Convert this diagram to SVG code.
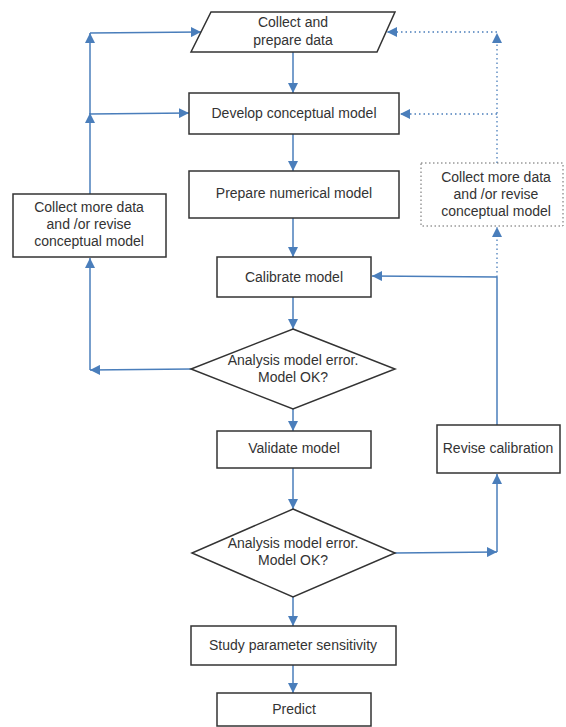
<svg xmlns="http://www.w3.org/2000/svg" width="566" height="727" viewBox="0 0 566 727">
<style>
.n{fill:#fff;stroke:#333;stroke-width:1.5}
.nd{fill:#fff;stroke:#666;stroke-width:1;stroke-dasharray:1.5 2.5}
.t{font-family:"Liberation Sans",Arial,sans-serif;font-size:14px;fill:#333;text-anchor:middle}
.c{fill:none;stroke:#4a7ebb;stroke-width:1.5;marker-end:url(#a)}
.cn{fill:none;stroke:#4a7ebb;stroke-width:1.5}
.d{fill:none;stroke:#4a7ebb;stroke-width:1.3;stroke-dasharray:1.5 3;marker-end:url(#a)}
.dn{fill:none;stroke:#4a7ebb;stroke-width:1.3;stroke-dasharray:1.5 3}
</style>
<defs>
<marker id="a" markerUnits="userSpaceOnUse" markerWidth="10" markerHeight="10" refX="10" refY="5" orient="auto" viewBox="0 0 10 10">
<path d="M0,0 L10,5 L0,10 z" fill="#4a7ebb"/>
</marker>
</defs>
<rect width="566" height="727" fill="#fff"/>
<g id="connectors">
<line class="c" x1="293" y1="52" x2="293" y2="93"/>
<line class="c" x1="293" y1="134" x2="293" y2="171"/>
<line class="c" x1="293" y1="218" x2="293" y2="257"/>
<line class="c" x1="293" y1="297" x2="293" y2="329"/>
<line class="c" x1="293" y1="409" x2="293" y2="431"/>
<line class="c" x1="293" y1="468" x2="293" y2="509"/>
<line class="c" x1="293" y1="597" x2="293" y2="626"/>
<line class="c" x1="293" y1="665" x2="293" y2="693"/>
<line class="c" x1="191" y1="369" x2="90" y2="370"/>
<line class="c" x1="90" y1="370" x2="90" y2="258"/>
<line class="c" x1="90" y1="194" x2="90" y2="113"/>
<line class="c" x1="90" y1="114" x2="189" y2="113"/>
<line class="c" x1="90" y1="114" x2="90" y2="33"/>
<line class="c" x1="90" y1="33" x2="201" y2="32"/>
<line class="c" x1="395" y1="553" x2="497" y2="552"/>
<line class="c" x1="497" y1="552" x2="497" y2="474"/>
<line class="cn" x1="497" y1="425" x2="497" y2="277"/>
<line class="c" x1="497" y1="277" x2="372" y2="276"/>
<line class="d" x1="497" y1="277" x2="497" y2="227"/>
<line class="d" x1="497" y1="163" x2="497" y2="33"/>
<line class="d" x1="497" y1="32" x2="387" y2="32"/>
<line class="d" x1="497" y1="114" x2="400" y2="114"/>
</g>
<g id="collect">
<polygon class="n" points="211,12 395,12 377,52 191,52"/>
<text class="t" x="293" y="27">Collect and</text>
<text class="t" x="293" y="45">prepare data</text>
</g>
<g id="develop">
<rect class="n" x="189" y="93" width="210" height="41"/>
<text class="t" x="294" y="118">Develop conceptual model</text>
</g>
<g id="prepare">
<rect class="n" x="189" y="171" width="210" height="47"/>
<text class="t" x="294" y="198">Prepare numerical model</text>
</g>
<g id="calibrate">
<rect class="n" x="217" y="257" width="154" height="40"/>
<text class="t" x="294" y="282">Calibrate model</text>
</g>
<g id="collect-more-left">
<rect class="n" x="13" y="194" width="153" height="63"/>
<text class="t" x="89" y="212">Collect more data</text>
<text class="t" x="89" y="229">and /or revise</text>
<text class="t" x="89" y="246">conceptual model</text>
</g>
<g id="collect-more-right">
<rect class="nd" x="421" y="163" width="142" height="63"/>
<text class="t" x="496" y="182">Collect more data</text>
<text class="t" x="496" y="199">and /or revise</text>
<text class="t" x="496" y="216">conceptual model</text>
</g>
<g id="analysis1">
<polygon class="n" points="293,329 395,369 293,409 191,369"/>
<text class="t" x="293" y="365">Analysis model error.</text>
<text class="t" x="293" y="382">Model OK?</text>
</g>
<g id="validate">
<rect class="n" x="217" y="431" width="154" height="37"/>
<text class="t" x="294" y="453">Validate model</text>
</g>
<g id="revise">
<rect class="n" x="437" y="425" width="123" height="48"/>
<text class="t" x="498" y="453">Revise calibration</text>
</g>
<g id="analysis2">
<polygon class="n" points="293,509 395,553 293,597 192,553"/>
<text class="t" x="293" y="548">Analysis model error.</text>
<text class="t" x="293" y="565">Model OK?</text>
</g>
<g id="sensitivity">
<rect class="n" x="191" y="626" width="205" height="39"/>
<text class="t" x="293" y="650">Study parameter sensitivity</text>
</g>
<g id="predict">
<rect class="n" x="217" y="693" width="154" height="33"/>
<text class="t" x="294" y="714">Predict</text>
</g>
</svg>
